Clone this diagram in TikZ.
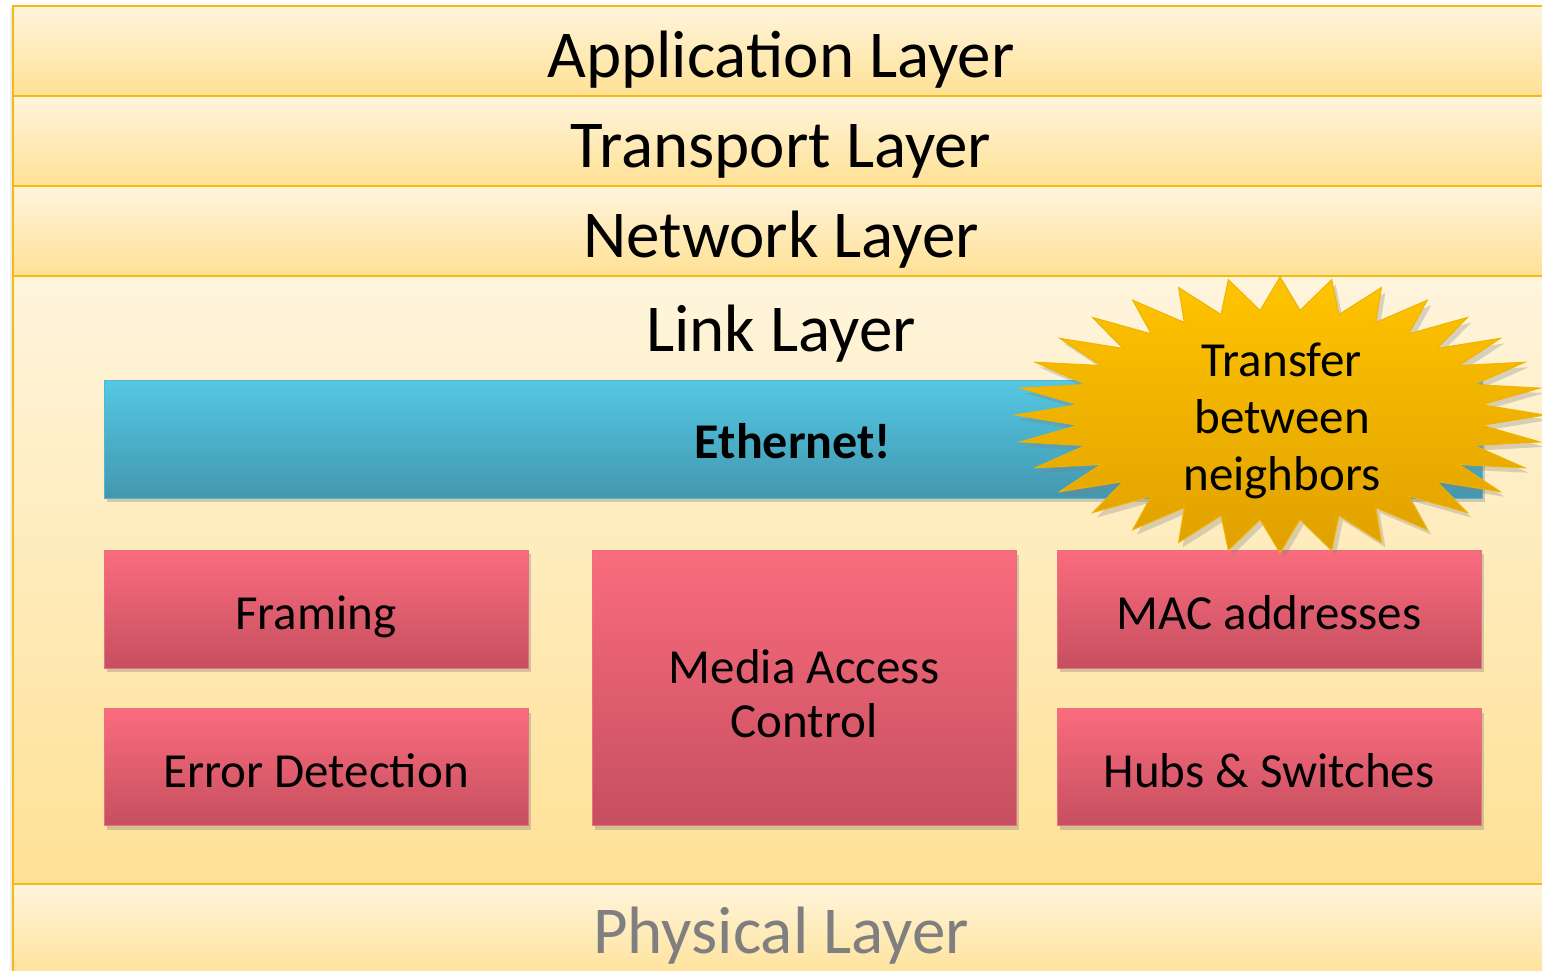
\documentclass[tikz,border=0pt]{standalone}
\usepackage{fontspec}
\setmainfont{Carlito}
\usetikzlibrary{shadows}
\definecolor{bandtop}{HTML}{FFF5DD}
\definecolor{bandbot}{HTML}{FFE195}
\definecolor{bandline}{HTML}{F5B914}
\definecolor{ethtop}{HTML}{55C8E4}
\definecolor{ethbot}{HTML}{4397AF}
\definecolor{ethline}{HTML}{52B5D4}
\definecolor{pinktop}{HTML}{FA6C7E}
\definecolor{pinkbot}{HTML}{C64F5F}
\definecolor{pinkline}{HTML}{E8707E}
\definecolor{startop}{HTML}{FFC400}
\definecolor{starbot}{HTML}{E0A000}
\definecolor{starline}{HTML}{EFB300}
\definecolor{physgray}{HTML}{7F7F7F}
\tikzset{
  band/.style={draw=bandline, line width=1.5pt, top color=bandtop, bottom color=bandbot, anchor=north west, inner sep=0pt,
    drop shadow={shadow xshift=-3pt, shadow yshift=-2pt, opacity=0.15}},
  bandtitle/.style={font=\fontsize{67}{72}\selectfont, text=black, inner sep=0pt, anchor=base},
  ethbox/.style={draw=ethline, line width=1pt, top color=ethtop, bottom color=ethbot, minimum width=1378pt, minimum height=118pt,
    drop shadow={shadow xshift=3pt, shadow yshift=-4pt, opacity=0.35}, font=\fontsize{50}{56}\selectfont\bfseries,
    text height=38pt, text depth=0pt},
  pinkbox/.style={draw=pinkline, line width=1pt, top color=pinktop, bottom color=pinkbot, minimum width=424pt,
    drop shadow={shadow xshift=3pt, shadow yshift=-4pt, opacity=0.35}, font=\fontsize{49}{54}\selectfont, align=center},
  oneline/.style={text height=40pt, text depth=0pt},
  starshape/.style={draw=starline, line width=1pt, top color=startop, bottom color=starbot,
    drop shadow={shadow xshift=4pt, shadow yshift=-5pt, opacity=0.3}},
}
\begin{document}
\begin{tikzpicture}[x=1pt,y=-1pt]
\useasboundingbox (0,0) rectangle (1542,970);
\clip (0,0) rectangle (1542,970);
\fill[white] (0,0) rectangle (1542,970);
% layer bands
\node[band, minimum width=1560pt, minimum height=90pt] (app) at (12,5) {};
\node[band, minimum width=1560pt, minimum height=90pt] (trans) at (12,95) {};
\node[band, minimum width=1560pt, minimum height=90pt] (net) at (12,185) {};
\node[band, minimum width=1560pt, minimum height=608pt] (link) at (12,275) {};
\node[band, minimum width=1560pt, minimum height=100pt] (phys) at (12,883) {};
\node[bandtitle] (appt) at (781,77) {Application Layer};
\node[bandtitle] (transt) at (781,167) {Transport Layer};
\node[bandtitle] (nett) at (781,257) {Network Layer};
\node[bandtitle] (linkt) at (781,351) {Link Layer};
\node[bandtitle, text=physgray] (physt) at (781,953) {Physical Layer};
% ethernet
\node[ethbox] (eth) at (793,439) {Ethernet!};
% pink boxes
\node[pinkbox, oneline, minimum height=118pt] (framing) at (316,609) {Framing};
\node[pinkbox, oneline, minimum height=117pt] (err) at (316,767) {Error Detection};
\node[pinkbox, minimum height=275pt] (mac) at (804,688) {\rule{0pt}{46pt}Media Access\\Control};
\node[pinkbox, oneline, minimum height=118pt] (addr) at (1269,609) {MAC addresses};
\node[pinkbox, oneline, minimum height=117pt] (hubs) at (1269,767) {Hubs \& Switches};
% starburst
\path[starshape] (1280+265,415)
  \foreach \i in {1,...,63} {
    -- ({1280+ifthenelse(mod(\i,2)==0,265,203)*cos(\i*5.625)}, {415+ifthenelse(mod(\i,2)==0,138,105)*sin(\i*5.625)})
  } -- cycle;
\node[font=\fontsize{49}{57}\selectfont, align=center, inner sep=0pt] (burst) at (1282,421) {Transfer\\between\\neighbors};
\end{tikzpicture}
\end{document}
